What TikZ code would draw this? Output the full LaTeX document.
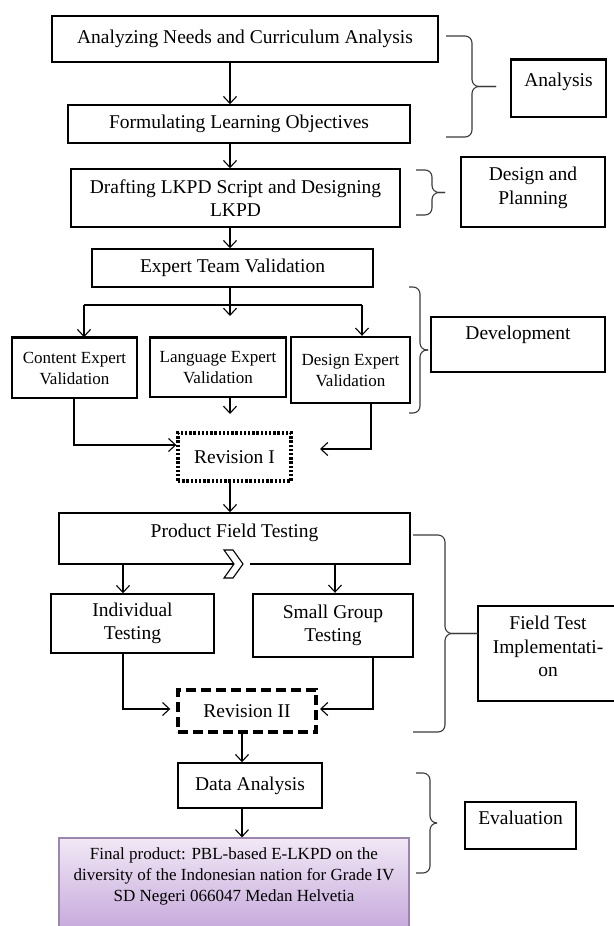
\documentclass[tikz,border=0pt]{standalone}
\usepackage{fontspec}
\setmainfont{Liberation Serif}
\usepackage{xcolor}
\usepackage{tikz}
\usetikzlibrary{arrows.meta,positioning,calc}
\definecolor{prodtop}{HTML}{F1E8F5}
\definecolor{prodbottom}{HTML}{C6A9DC}
\definecolor{prodborder}{HTML}{9B87AD}
\definecolor{braceink}{HTML}{3A3A3A}
\newcommand{\mainsize}{\fontsize{19.5}{23.5}\selectfont}
\newcommand{\smallsize}{\fontsize{17}{21}\selectfont}
\tikzset{
  stagebox/.style={draw,line width=1.5pt,inner sep=0pt,align=center,font=\mainsize},
  heavybox/.style={stagebox,line width=2.4pt},
  expertbox/.style={stagebox,font=\smallsize},
  phasebox/.style={stagebox,line width=1.3pt},
  dotbox/.style={stagebox,line width=3.4pt,dash pattern=on 2.4pt off 1.8pt},
  dashbox/.style={stagebox,line width=3.4pt,dash pattern=on 10pt off 5pt},
  finalbox/.style={stagebox,draw=prodborder,line width=1.2pt,top color=prodtop,bottom color=prodbottom,font=\smallsize},
  flowarrow/.style={-{Straight Barb[length=7pt,width=13pt]},line width=1.1pt},
  flowline/.style={line width=1.1pt},
  bracepath/.style={draw=braceink,line width=1.1pt,rounded corners=7pt}
}
% arm x, spine x, tip x, top y, bottom y
\newcommand{\phasebrace}[5]{%
  \draw[bracepath] (#1,#4) -- (#2,#4) -- (#2,{(#4+#5)/2}) -- (#3,{(#4+#5)/2});
  \draw[bracepath] (#1,#5) -- (#2,#5) -- (#2,{(#4+#5)/2}) -- (#3,{(#4+#5)/2});
}

\begin{document}
\begin{tikzpicture}[x=1pt,y=-1pt]
  \useasboundingbox (0,0) rectangle (613,926);

  % main stages
  \node[stagebox,minimum width=386pt,minimum height=46pt] (needs) at (245,39) {Analyzing Needs and Curriculum Analysis};
  \node[stagebox,minimum width=342pt,minimum height=38pt] (objectives) at (239,124) {Formulating Learning Objectives};
  \node[stagebox,minimum width=329pt,minimum height=58pt] (drafting) at (235.5,198) {Drafting LKPD Script and Designing\\LKPD};
  \node[stagebox,minimum width=281pt,minimum height=38pt] (team) at (232.5,268) {Expert Team Validation};
  \node[expertbox,minimum width=125pt,minimum height=60pt] (content) at (74.5,368) {Content Expert\\Validation};
  \node[expertbox,minimum width=136pt,minimum height=59pt] (language) at (218,367.5) {Language Expert\\Validation};
  \node[expertbox,heavybox,font=\smallsize,minimum width=119pt,minimum height=66pt] (design) at (350.5,370) {Design Expert\\Validation};
  \node[dotbox,minimum width=113pt,minimum height=48pt] (rev1) at (234.5,457) {Revision I};
  \node[stagebox,minimum width=351pt,minimum height=51pt,text depth=15pt] (field) at (234.5,538.5) {Product Field Testing};
  \node[stagebox,minimum width=163pt,minimum height=59pt] (individual) at (132.5,623.5) {Individual\\Testing};
  \node[heavybox,minimum width=160pt,minimum height=63pt] (smallgroup) at (333,625.5) {Small Group\\Testing};
  \node[dashbox,minimum width=138pt,minimum height=42pt] (rev2) at (247,711) {Revision II};
  \node[stagebox,minimum width=144pt,minimum height=45pt] (data) at (250,785.5) {Data Analysis};
  \node[finalbox,minimum width=350pt,minimum height=92pt,text depth=18pt] (final) at (234,884) {Final product: PBL-based E-LKPD on the\\diversity of the Indonesian nation for Grade IV\\SD Negeri 066047 Medan Helvetia};

  % phases
  \node[phasebox,minimum width=95pt,minimum height=57pt,text depth=17pt] (analysis) at (558.5,88.5) {Analysis};
  \node[phasebox,minimum width=144pt,minimum height=70pt,text depth=13pt] (planning) at (533,192) {Design and\\Planning};
  \node[phasebox,minimum width=174pt,minimum height=55pt,text depth=23pt] (development) at (518,344.5) {Development};
  \node[phasebox,minimum width=140pt,minimum height=95pt,text depth=14pt] (fieldtest) at (548,653.5) {Field Test\\Implementati-\\on};
  \node[phasebox,minimum width=111pt,minimum height=47pt,text depth=15pt] (evaluation) at (520.5,825.5) {Evaluation};
  \draw[line width=3pt] (analysis.north west) -- (analysis.north east);
  \draw[line width=3pt] (content.north west) -- (content.north east);
  \draw[line width=2.2pt] (language.north west) -- (language.north east);

  % braces
  \phasebrace{446}{472}{496}{36}{137}
  \phasebrace{416}{432}{445}{170}{215}
  \phasebrace{409}{420}{428}{287}{413}
  \phasebrace{413}{445}{478}{535}{732}
  \phasebrace{416}{430}{437}{773}{873}

  % connectors
  \coordinate (spine) at (230,0);
  \coordinate (lowspine) at (242,0);
  \coordinate (splitL) at (84,305);
  \coordinate (splitR) at (362,305);
  \coordinate (teamend) at (230,316);
  \coordinate (langend) at (230,414);
  \coordinate (rev1in) at (320,449);
  \coordinate (rev2in) at (320,709);
  \draw[flowarrow] (needs.south -| spine) -- (objectives.north -| spine);
  \draw[flowarrow] (objectives.south -| spine) -- (drafting.north -| spine);
  \draw[flowarrow] (drafting.south -| spine) -- (team.north -| spine);
  \draw[flowarrow] (team.south -| spine) -- (teamend);
  \draw[flowline] (splitL) -- (splitR);
  \draw[flowarrow] (splitL) -- (content.north -| splitL);
  \draw[flowarrow] (splitR) -- (design.north -| splitR);
  \draw[flowarrow] (language.south -| spine) -- (langend);
  \draw[flowarrow] (content.south -| 74,0) |- ([yshift=12pt]rev1.west);
  \draw[flowarrow] (design.south -| 371,0) |- (rev1in);
  \draw[flowarrow] (rev1.south -| spine) -- (field.north -| spine);
  \draw[flowarrow] (field.south -| 123,0) -- (individual.north -| 123,0);
  \draw[flowarrow] (field.south -| 335,0) -- (smallgroup.north -| 335,0);
  \draw[flowarrow] (individual.south -| 123,0) |- ([xshift=-6pt,yshift=2pt]rev2.west);
  \draw[flowarrow] (smallgroup.south -| 373,0) |- (rev2in);
  \draw[flowarrow] (rev2.south -| lowspine) -- (data.north -| lowspine);
  \draw[flowarrow] (data.south -| lowspine) -- (final.north -| lowspine);

  % chevron on the field testing box
  \fill[white] (243,561) rectangle (250,567);
  \draw[line width=1.1pt,fill=white,line join=miter] (224,550) -- (233,550) -- (243,564) -- (233,578) -- (224,578) -- (234,564) -- cycle;
\end{tikzpicture}
\end{document}
